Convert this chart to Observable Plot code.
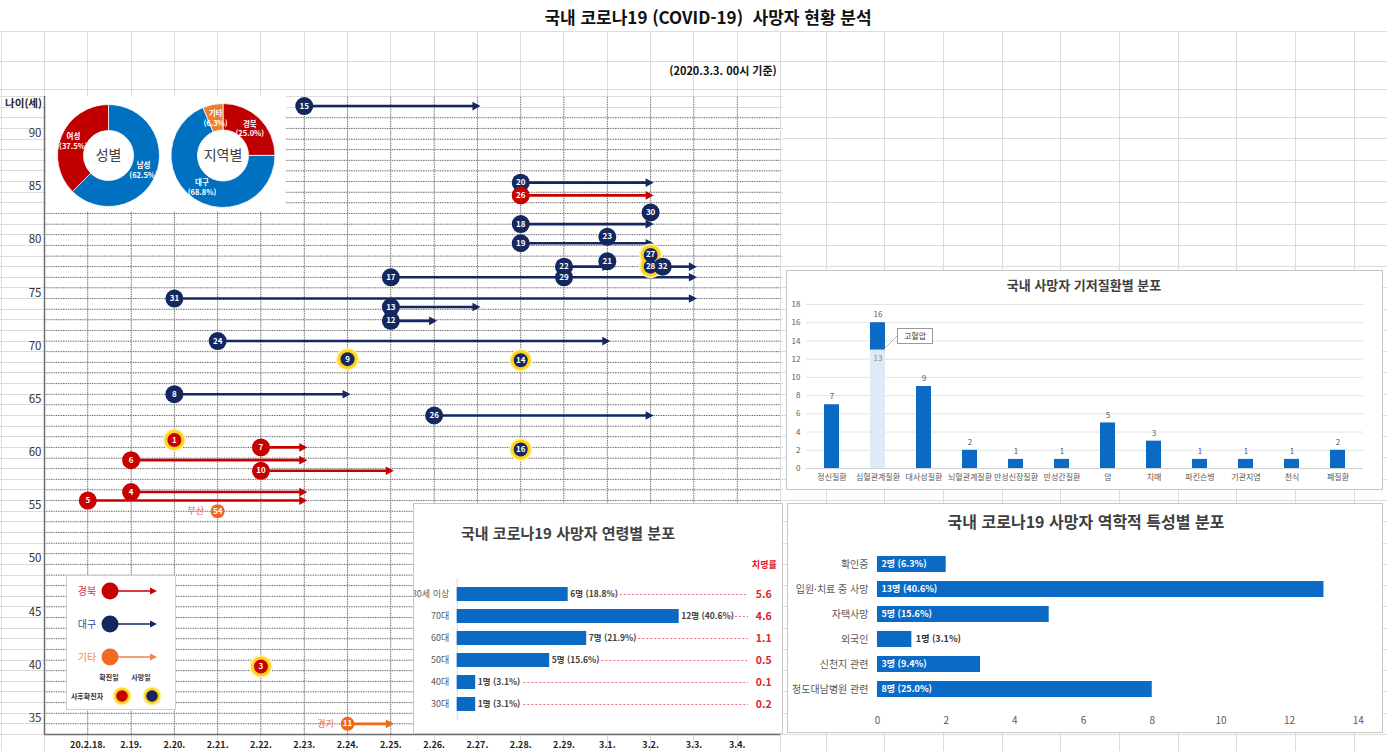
<!DOCTYPE html>
<html lang="ko">
<head>
<meta charset="utf-8">
<script src="https://cdn.jsdelivr.net/npm/d3@7"></script>
<script src="https://cdn.jsdelivr.net/npm/@observablehq/plot@0.6"></script>
<style>
  html,body{margin:0;padding:0;}
  body{width:1387px;height:751px;position:relative;overflow:hidden;background:#fff;
       font-family:"Noto Sans CJK KR","Noto Sans",sans-serif;}
  .abs{position:absolute;}
  .box{position:absolute;background:#fff;border:1px solid #c6c6c6;box-sizing:border-box;overflow:hidden;}
  .ttl{position:absolute;white-space:nowrap;transform:translate(-50%,-50%);color:#404040;font-weight:bold;}
  .inner{position:absolute;left:-1px;top:-1px;}
  svg text{font-family:"Noto Sans CJK KR","Noto Sans",sans-serif;}
</style>
</head>
<body>
<svg id="bg" class="abs" width="1387" height="751" style="left:0;top:0"></svg>
<div class="abs" style="left:708px;top:16px;transform:translate(-50%,-50%);font-size:17px;font-weight:bold;color:#111;white-space:nowrap">국내 코로나19 (COVID-19)&nbsp; 사망자 현황 분석</div>
<div class="abs" style="left:723px;top:70px;transform:translate(-50%,-50%);font-size:11px;font-weight:bold;color:#111;white-space:nowrap">(2020.3.3. 00시 기준)</div>
<div id="main" class="abs" style="left:0;top:0;width:785px;height:751px"></div>
<div class="abs" style="left:0;top:95px;width:42px;text-align:right;font-size:10.5px;font-weight:bold;color:#222;white-space:nowrap">나이(세)</div>
<div id="donuts" class="abs" style="left:46px;top:96px;width:240px;height:115px"></div>
<div id="legend" class="box" style="left:66px;top:575px;width:110px;height:135px;border-color:#d0d0d0">
<svg class="inner" width="110" height="135">
  <g font-size="10" text-anchor="middle">
    <text x="21" y="19.5" fill="#d8334a">경북</text>
    <line x1="44" y1="16" x2="86" y2="16" stroke="#c80000" stroke-width="1.6"/>
    <path d="M84,12.5 L91,16 L84,19.5Z" fill="#c80000"/>
    <circle cx="44" cy="16" r="8.5" fill="#c80000"/>
    <text x="21" y="52.5" fill="#3a4a8f">대구</text>
    <line x1="44" y1="49" x2="86" y2="49" stroke="#14285f" stroke-width="1.6"/>
    <path d="M84,45.5 L91,49 L84,52.5Z" fill="#14285f"/>
    <circle cx="44" cy="49" r="8.5" fill="#14285f"/>
    <text x="21" y="85.5" fill="#f08a50">기타</text>
    <line x1="44" y1="82" x2="86" y2="82" stroke="#f2824a" stroke-width="1.6"/>
    <path d="M84,78.5 L91,82 L84,85.5Z" fill="#f2824a"/>
    <circle cx="44" cy="82" r="8.5" fill="#f26a21"/>
  </g>
  <g font-size="7" font-weight="bold" fill="#333" text-anchor="middle">
    <text x="43" y="105">확진일</text>
    <text x="75" y="105">사망일</text>
    <text x="21" y="124">사후확진자</text>
  </g>
  <circle cx="56" cy="121" r="9.5" fill="#fff0a0"/>
  <circle cx="56" cy="121" r="8" fill="#ffd21f"/>
  <circle cx="56" cy="121" r="5.8" fill="#c80000"/>
  <circle cx="86" cy="121" r="9.5" fill="#fff0a0"/>
  <circle cx="86" cy="121" r="8" fill="#ffd21f"/>
  <circle cx="86" cy="121" r="5.8" fill="#14285f"/>
</svg>
</div>
<div id="chartA" class="box" style="left:786px;top:270px;width:597px;height:220px">
  <div class="ttl" style="left:297px;top:13px;font-size:13px">국내 사망자 기저질환별 분포</div>
</div>
<div id="chartB" class="box" style="left:413px;top:503px;width:370px;height:231px">
  <div class="ttl" style="left:154px;top:28px;font-size:15px">국내 코로나19 사망자 연령별 분포</div>
</div>
<div id="chartC" class="box" style="left:787px;top:503px;width:596px;height:230px">
  <div class="ttl" style="left:298px;top:17px;font-size:16px">국내 코로나19 사망자 역학적 특성별 분포</div>
</div>
<script>
// ================= DATA =================
const dayLabels = ["20.2.18.","2.19.","2.20.","2.21.","2.22.","2.23.","2.24.","2.25.","2.26.","2.27.","2.28.","2.29.","3.1.","3.2.","3.3.","3.4."];
const ageTicks = [35,40,45,50,55,60,65,70,75,80,85,90];

const patientNo   = ["15","20","26","30","18","23","19","27","28","32","22","21","17","29","31","13","12","24","9","14","8","26","16","1","7","6","10","4","5","54","3","11"];
const patientAge  = [92.1,84.9,83.7,82.1,81.0,79.8,79.2,78.1,77.0,77.0,77.0,77.5,76.0,76.0,74.0,73.2,71.9,70.0,68.3,68.2,65.0,63.0,59.8,60.7,60.0,58.8,57.8,55.8,55.0,54.0,39.4,34.0];
const confirmDay  = ["2.23.","2.28.","2.28.","3.2.","2.28.","3.1.","2.28.","3.2.","3.2.","3.2.","2.29.","3.1.","2.25.","2.29.","2.20.","2.25.","2.25.","2.21.","2.24.","2.28.","2.20.","2.26.","2.28.","2.20.","2.22.","2.19.","2.22.","2.19.","20.2.18.","2.21.","2.22.","2.24."];
const deathDay    = ["2.27.","3.2.","3.2.","3.2.","3.2.","3.1.","3.2.","3.2.","3.2.","3.3.","3.1.","3.1.","2.29.","3.3.","3.3.","2.27.","2.26.","3.1.","2.24.","2.28.","2.24.","3.2.","2.28.","2.20.","2.23.","2.23.","2.25.","2.23.","2.23.","2.21.","2.22.","2.25."];
const patientRegion = ["대구","대구","경북","대구","대구","대구","대구","대구","대구","대구","대구","대구","대구","대구","대구","대구","대구","대구","대구","대구","대구","대구","대구","경북","경북","경북","경북","경북","경북","기타","경북","기타"];
const posthumous  = [false,false,false,false,false,false,false,true,true,false,false,false,false,false,false,false,false,false,true,true,false,false,true,true,false,false,false,false,false,false,true,false];
const markerShift = [0,0,0,0,0,0,0,0,0,0.28,0,0,0,0,0,0,0,0,0,0,0,0,0,0,0,0,0,0,0,0,0,0];
const placeNote   = ["","","","","","","","","","","","","","","","","","","","","","","","","","","","","","부산","","경기"];

const sexLabels = ["남성","여성"];
const sexShare = [62.5, 37.5];
const regionLabels = ["경북","대구","기타"];
const regionShare = [25.0, 68.8, 6.3];

const diseases = ["정신질환","심혈관계질환","대사성질환","뇌혈관계질환","만성신장질환","만성간질환","암","치매","파킨슨병","기관지염","천식","폐질환"];
const diseaseCount = [7,16,9,2,1,1,5,3,1,1,1,2];
const hypertensionCount = 13;

const ageGroups = ["80세 이상","70대","60대","50대","40대","30대"];
const ageDeaths = [6,12,7,5,1,1];
const agePct = ["18.8","40.6","21.9","15.6","3.1","3.1"];
const ageCfr = ["5.6","4.6","1.1","0.5","0.1","0.2"];

const epiGroups = ["확인중","입원·치료 중 사망","자택사망","외국인","신천지 관련","청도대남병원 관련"];
const epiDeaths = [2,13,5,1,3,8];
const epiPct = ["6.3","40.6","15.6","3.1","9.4","25.0"];

// ================= STYLE =================
const FONT = '"Noto Sans CJK KR","Noto Sans",sans-serif';
const regionColor = {"경북":"#c80000","대구":"#14285f","기타":"#f0681e"};
const BLUE = "#0b6bc4";

// ================= BACKGROUND (sheet grid) =================
(function(){
  const bg = d3.select("#bg");
  const c = "#dcdcdc";
  const L = (x1,y1,x2,y2)=>bg.append("line").attr("x1",x1).attr("y1",y1).attr("x2",x2).attr("y2",y2).attr("stroke",c).attr("stroke-width",1);
  for (let x = 0.7; x <= 783; x += 43.29) { const X = Math.round(x)+0.5; L(X,31,X,751); }
  for (let x = 825.5; x <= 1387; x += 58.7) { const X = Math.round(x)+0.5; L(X,31,X,751); }
  L(0,31.5,1387,31.5); L(0,61.5,1387,61.5); L(0,89.5,1387,89.5);
  for (let y = 734; y >= 96; y -= 10.633) { const Y = Math.round(y)+0.5; L(0,Y,783,Y); }
  for (let y = 734; y >= 96; y -= 21.27) { const Y = Math.round(y)+0.5; L(783,Y,1387,Y); }
})();

// ================= MAIN TIMELINE =================
const patients = patientNo.map((no,i)=>({
  no, age: patientAge[i],
  c: dayLabels.indexOf(confirmDay[i]) + markerShift[i],
  d: dayLabels.indexOf(deathDay[i]),
  region: patientRegion[i], post: posthumous[i], note: placeNote[i]
}));
const arrows = patients.filter(p => p.d > p.c);
const rightTriangle = { draw(ctx, size){ const k = Math.sqrt(size/45); ctx.moveTo(3*k,0); ctx.lineTo(-5*k,-4.3*k); ctx.lineTo(-5*k,4.3*k); ctx.closePath(); } };
const dotRadius = p => p.post ? 7 : (p.note ? 7 : 9);

const main = Plot.plot({
  width: 785, height: 751,
  marginLeft: 44, marginRight: 5, marginTop: 96, marginBottom: 17,
  x: {domain: [-1, 16], axis: null},
  y: {domain: [33, 93], axis: null},
  r: {type: "identity"},
  color: {type: "identity"},
  style: {background: "transparent", overflow: "visible", fontFamily: FONT, maxWidth: "none"},
  marks: [
    Plot.ruleY(d3.range(34, 92), {stroke: "#4a4a4a", strokeDasharray: "1,1.4", strokeWidth: 1, strokeOpacity: 0.85}),
    Plot.ruleX(d3.range(0, 16), {y1: 33, y2: 93, stroke: "#4a4a4a", strokeDasharray: "1,1.4", strokeWidth: 1, strokeOpacity: 0.85}),
    Plot.ruleX([-1], {stroke: "#6e6e6e", strokeWidth: 1.5}),
    Plot.ruleY([33], {stroke: "#6e6e6e", strokeWidth: 1.5}),
    Plot.link(arrows, {x1: "c", x2: "d", y1: "age", y2: "age", stroke: d => regionColor[d.region], strokeWidth: 2.6}),
    Plot.dot(arrows, {x: "d", y: "age", symbol: rightTriangle, r: 3.8, fill: d => regionColor[d.region]}),
    Plot.dot(patients.filter(p => p.post), {x: "c", y: "age", r: 11.5, fill: "#fff2a6"}),
    Plot.dot(patients.filter(p => p.post), {x: "c", y: "age", r: 10, fill: "#ffd21f"}),
    Plot.dot(patients, {x: "c", y: "age", r: dotRadius, fill: d => regionColor[d.region]}),
    Plot.text(patients, {x: "c", y: "age", text: "no", fill: "white", fontSize: 8, fontWeight: "bold"}),
    Plot.text(patients.filter(p => p.note), {x: "c", y: "age", text: "note", dx: -22, fill: "#f0681e", fontSize: 9}),
    Plot.text(ageTicks, {x: -1, y: d => d, text: d => String(d), dx: -3, dy: 5, textAnchor: "end", fontSize: 11.5, fill: "#333"}),
    Plot.text(dayLabels, {x: (d, i) => i, y: 33, dy: 11, text: d => d, fontSize: 9, fontWeight: "bold", fill: "#222"})
  ]
});
document.getElementById("main").appendChild(main);

// ================= DONUTS =================
function donutMark(labels, shares, colors, cx, cy, ro, ri, centerText) {
  return () => {
    const g = d3.create("svg:g");
    const pie = d3.pie().sort(null).value(d => d.v);
    const arcs = pie(labels.map((l, i) => ({l, v: shares[i], c: colors[i]})));
    const arc = d3.arc().innerRadius(ri).outerRadius(ro);
    const lab = d3.arc().innerRadius(38).outerRadius(38);
    const gg = g.append("g").attr("transform", `translate(${cx},${cy})`);
    gg.selectAll("path").data(arcs).join("path").attr("d", arc).attr("fill", d => d.data.c).attr("stroke", "#fff").attr("stroke-width", 0.8);
    const t = gg.selectAll("text.l").data(arcs).join("text").attr("class", "l")
      .attr("transform", d => `translate(${lab.centroid(d)})`)
      .attr("text-anchor", "middle").attr("fill", "#fff").attr("font-size", 7.5).attr("font-weight", "bold");
    t.append("tspan").attr("x", 0).attr("dy", "-0.25em").text(d => d.data.l);
    t.append("tspan").attr("x", 0).attr("dy", "1.3em").text(d => `(${d.data.v.toFixed(1)}%)`);
    gg.append("text").attr("text-anchor", "middle").attr("dy", "0.35em").attr("font-size", 14).attr("fill", "#404040").text(centerText);
    return g.node();
  };
}
const donuts = Plot.plot({
  width: 240, height: 115, margin: 0,
  style: {background: "#fff", overflow: "visible", fontFamily: FONT, maxWidth: "none"},
  marks: [
    donutMark(sexLabels, sexShare, ["#0070c0", "#c00000"], 62.5, 59.5, 51, 25, "성별"),
    donutMark(regionLabels, regionShare, ["#c00000", "#0070c0", "#ed7d31"], 177, 59.5, 52, 25.5, "지역별")
  ]
});
document.getElementById("donuts").appendChild(donuts);

// ================= CHART A : 기저질환 =================
const diseaseData = diseases.map((name, i) => ({name, count: diseaseCount[i]}));
const hyper = [{name: "심혈관계질환", v: hypertensionCount}];
const chartA = Plot.plot({
  width: 597, height: 220, marginLeft: 20, marginRight: 20, marginTop: 34, marginBottom: 22,
  x: {domain: diseases, paddingInner: 0.677, paddingOuter: 0.3385, tickSize: 0, tickPadding: 6, label: null},
  y: {domain: [0, 18], ticks: d3.range(0, 19, 2), tickSize: 0, tickPadding: 6, label: null},
  style: {background: "transparent", fontSize: "8px", color: "#595959", fontFamily: FONT, overflow: "visible", maxWidth: "none"},
  marks: [
    Plot.ruleY(d3.range(2, 19, 2), {stroke: "#e3e3e3"}),
    Plot.ruleY([0], {stroke: "#d0d0d0"}),
    Plot.barY(diseaseData, {x: "name", y: "count", fill: BLUE}),
    Plot.barY(hyper, {x: "name", y: "v", fill: "#ddeaf7"}),
    Plot.text(diseaseData, {x: "name", y: "count", text: "count", dy: -8, fill: "#595959", fontSize: 8}),
    Plot.text(hyper, {x: "name", y: "v", text: "v", dy: 8, fill: "#8a8a8a", fontSize: 8})
  ]
});
chartA.classList.add("inner");
document.getElementById("chartA").appendChild(chartA);
// callout 고혈압
document.getElementById("chartA").insertAdjacentHTML("beforeend",
  `<svg class="inner" width="597" height="220" style="pointer-events:none"><line x1="98" y1="79" x2="111" y2="66" stroke="#a6a6a6" stroke-width="0.8"/></svg>
   <div style="position:absolute;left:110px;top:57px;width:34px;height:14px;border:1px solid #9a9a9a;background:#fff;font-size:8px;color:#404040;text-align:center;line-height:14px">고혈압</div>`);

// ================= CHART B : 연령별 =================
const ageData = ageGroups.map((g, i) => ({g, n: ageDeaths[i], label: `${ageDeaths[i]}명 (${agePct[i]}%)`, cfr: ageCfr[i]}));
const chartB = Plot.plot({
  width: 370, height: 231, marginLeft: 43.7, marginRight: 11.8, marginTop: 75.2, marginBottom: 13.8,
  x: {domain: [0, 17], axis: null},
  y: {domain: ageGroups, padding: 0.366, tickSize: 0, tickPadding: 8, label: null},
  style: {background: "transparent", fontSize: "9px", color: "#595959", fontFamily: FONT, overflow: "visible", maxWidth: "none"},
  marks: [
    Plot.ruleX([0], {stroke: "#d9d9d9"}),
    Plot.barX(ageData, {y: "g", x: "n", fill: BLUE}),
    Plot.text(ageData, {y: "g", x: "n", text: "label", dx: 2, textAnchor: "start", fontSize: 8.5, fontWeight: "bold", fill: "#404040"}),
    Plot.ruleY(ageData, {y: "g", x1: d => d.n + 2.6, x2: 15.75, stroke: "#e8707a", strokeDasharray: "2,2", strokeWidth: 1}),
    Plot.text(ageData, {y: "g", text: "cfr", frameAnchor: "right", textAnchor: "end", fontSize: 10.5, fontWeight: "bold", fill: "#e0202a"}),
    Plot.text(["치명률"], {frameAnchor: "top-right", textAnchor: "end", dx: 5, dy: -17, fontSize: 9, fontWeight: "bold", fill: "#e0202a"})
  ]
});
chartB.classList.add("inner");
document.getElementById("chartB").appendChild(chartB);

// ================= CHART C : 역학적 특성별 =================
const epiData = epiGroups.map((g, i) => ({g, n: epiDeaths[i], label: `${epiDeaths[i]}명 (${epiPct[i]}%)`}));
const chartC = Plot.plot({
  width: 596, height: 230, marginLeft: 90, marginRight: 25.2, marginTop: 41.4, marginBottom: 25.4,
  x: {domain: [0, 14], ticks: d3.range(0, 15, 2), tickSize: 0, tickPadding: 9, label: null},
  y: {domain: epiGroups, padding: 0.375, tickSize: 0, tickPadding: 9, label: null},
  style: {background: "transparent", fontSize: "10px", color: "#595959", fontFamily: FONT, overflow: "visible", maxWidth: "none"},
  marks: [
    Plot.barX(epiData, {y: "g", x: "n", fill: BLUE}),
    Plot.text(epiData.filter(d => d.n >= 2), {y: "g", x: 0, text: "label", dx: 4, textAnchor: "start", fontSize: 9, fontWeight: "bold", fill: "#fff"}),
    Plot.text(epiData.filter(d => d.n < 2), {y: "g", x: "n", text: "label", dx: 4, textAnchor: "start", fontSize: 9, fontWeight: "bold", fill: "#333"})
  ]
});
chartC.classList.add("inner");
document.getElementById("chartC").appendChild(chartC);
</script>
</body>
</html>
